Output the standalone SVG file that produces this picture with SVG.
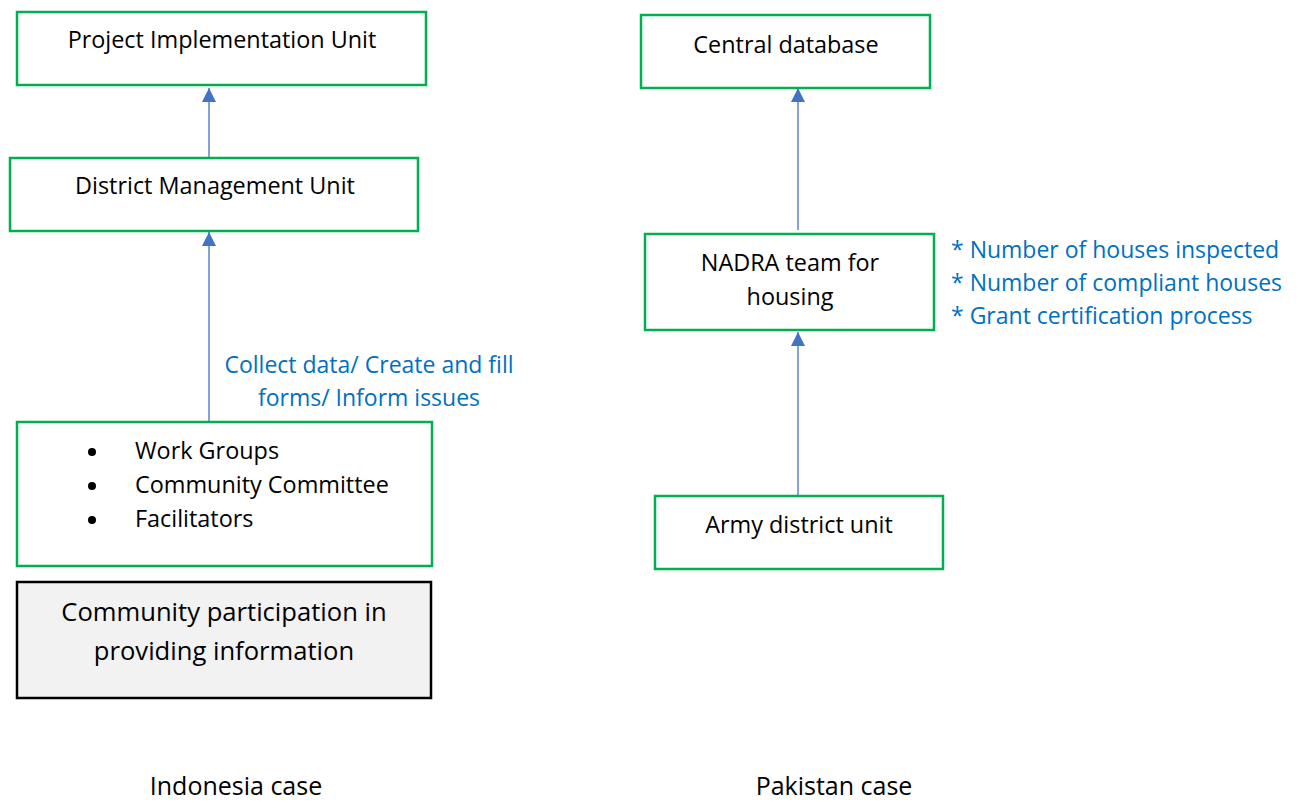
<svg xmlns="http://www.w3.org/2000/svg" width="1300" height="802" viewBox="0 0 1300 802">
<style>
.box{fill:#fff;stroke:#00B050;stroke-width:2.5}
.grey{fill:#F2F2F2;stroke:#000;stroke-width:2.5}
.t{font-family:"Open Sans","Liberation Sans",Arial,sans-serif;font-size:23.4px;fill:#000}
.tc{text-anchor:middle}
.b{font-family:"Open Sans","Liberation Sans",Arial,sans-serif;font-size:23px;fill:#0070C0}
.big{font-family:"Open Sans","Liberation Sans",Arial,sans-serif;font-size:25.6px;fill:#000;text-anchor:middle}
.lab{font-family:"Open Sans","Liberation Sans",Arial,sans-serif;font-size:25px;fill:#000;text-anchor:middle}
.c{stroke:#4472C4;stroke-width:1.3;fill:none}
</style>
<defs>
<marker id="ah" viewBox="0 0 10 10" refX="10" refY="5" markerWidth="14" markerHeight="14" markerUnits="userSpaceOnUse" orient="auto">
<path d="M0,0 L10,5 L0,10 z" fill="#4472C4"/>
</marker>
</defs>
<rect width="1300" height="802" fill="#fff"/>
<g id="connectors">
<line class="c" x1="209" y1="158" x2="209" y2="88" marker-end="url(#ah)"/>
<line class="c" x1="209" y1="422" x2="209" y2="232" marker-end="url(#ah)"/>
<line class="c" x1="798" y1="230" x2="798" y2="88" marker-end="url(#ah)"/>
<line class="c" x1="798" y1="495" x2="798" y2="332" marker-end="url(#ah)"/>
<text class="b" x="369" y="373" text-anchor="middle">Collect data/ Create and fill</text>
<text class="b" x="369" y="406" text-anchor="middle">forms/ Inform issues</text>
</g>
<g id="piu">
<rect class="box" x="17" y="12" width="409" height="73"/>
<text class="t tc" x="222" y="48">Project Implementation Unit</text>
</g>
<g id="dmu">
<rect class="box" x="10" y="158" width="408" height="73"/>
<text class="t tc" x="215" y="194">District Management Unit</text>
</g>
<g id="community">
<rect class="box" x="17" y="422" width="415" height="144"/>
<circle cx="92" cy="452" r="4"/>
<circle cx="92" cy="486" r="4"/>
<circle cx="92" cy="520" r="4"/>
<text class="t" x="135" y="459">Work Groups</text>
<text class="t" x="135" y="493">Community Committee</text>
<text class="t" x="135" y="527">Facilitators</text>
</g>
<g id="participation">
<rect class="grey" x="17" y="582" width="414" height="116"/>
<text class="big" x="224" y="621">Community participation in</text>
<text class="big" x="224" y="660">providing information</text>
</g>
<g id="central">
<rect class="box" x="641" y="15" width="289" height="73"/>
<text class="t tc" x="786" y="53">Central database</text>
</g>
<g id="nadra">
<rect class="box" x="645" y="234" width="289" height="96"/>
<text class="t tc" x="790" y="271">NADRA team for</text>
<text class="t tc" x="790" y="305">housing</text>
</g>
<g id="nadra-notes">
<text class="b" x="951" y="258">* Number of houses inspected</text>
<text class="b" x="951" y="291">* Number of compliant houses</text>
<text class="b" x="951" y="324">* Grant certification process</text>
</g>
<g id="army">
<rect class="box" x="655" y="496" width="288" height="73"/>
<text class="t tc" x="799" y="533">Army district unit</text>
</g>
<g id="labels">
<text class="lab" x="236" y="795">Indonesia case</text>
<text class="lab" x="834" y="795">Pakistan case</text>
</g>
</svg>
